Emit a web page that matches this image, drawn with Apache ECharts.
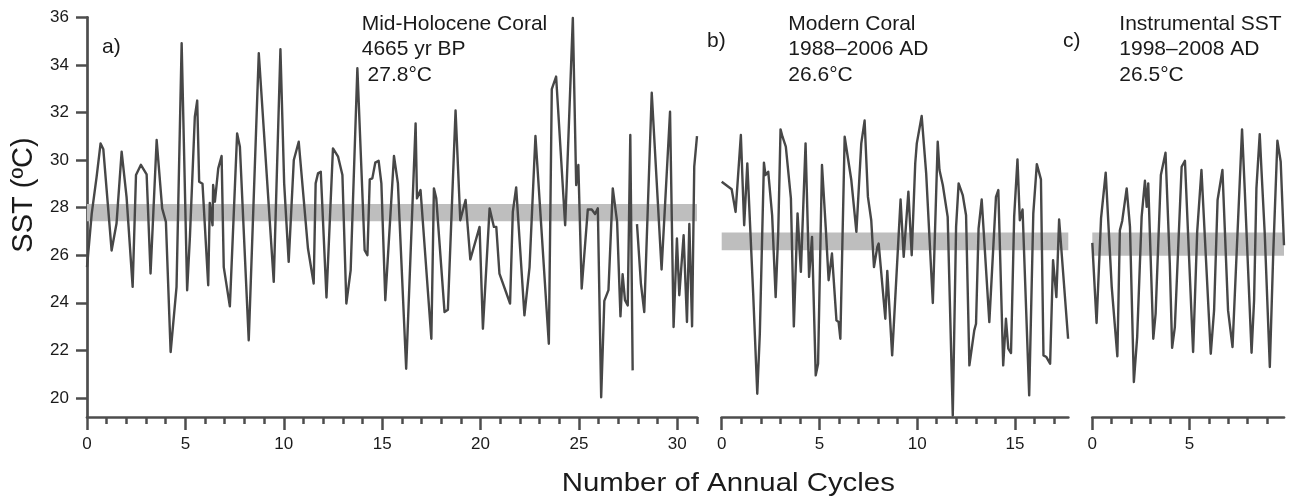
<!DOCTYPE html>
<html>
<head>
<meta charset="utf-8">
<script src="https://cdn.jsdelivr.net/npm/echarts@6/dist/echarts.min.js"></script>
<style>
html,body{margin:0;padding:0;background:#fff}
#chart{width:1300px;height:499px}
</style>
</head>
<body>
<div id="chart"></div>
<script>
// a) Mid-Holocene coral
var aX=[0,0.24,0.49,0.69,0.83,1.25,1.5,1.76,2.01,2.32,
    2.49,2.74,3.03,3.23,3.54,3.82,4.01,4.25,4.55,4.81,
    5.09,5.23,5.48,5.6,5.7,5.87,6.16,6.24,6.38,6.41,
    6.5,6.67,6.84,6.95,7.26,7.63,7.77,8.22,8.73,9.49,
    9.83,10.02,10.25,10.51,10.76,11.23,11.52,11.62,11.74,11.88,
    12.17,12.5,12.76,12.98,13.18,13.4,13.74,14.11,14.25,14.37,
    14.5,14.65,14.82,14.96,15.16,15.6,15.8,16.22,16.7,16.77,
    16.95,17.5,17.63,17.75,18.17,18.34,18.73,18.97,19.24,19.48,
    19.95,20.12,20.46,20.68,20.8,20.96,21.5,21.64,21.81,22.23,
    22.49,22.79,23.47,23.62,23.84,24.3,24.69,24.86,24.97,25.14,
    25.45,25.65,25.82,25.96,26.13,26.29,26.5,26.72,26.94,27.11,
    27.22,27.34,27.48,27.61,27.73,27.84,27.95,28.15,28.32,28.7,
    29.2,29.63,29.81,29.98,30.1,30.32,30.49,30.61,30.75,30.86,
    31.0];
var aY=[25.5,27.75,29.3,30.7,30.45,26.2,27.33,30.35,28.45,24.67,
    29.37,29.8,29.4,25.23,30.84,27.97,27.4,21.93,24.67,34.91,
    24.53,26.77,31.82,32.5,29.09,29.0,24.74,28.2,27.26,28.95,
    28.25,29.65,30.17,25.5,23.85,31.12,30.56,22.42,34.49,24.88,
    34.66,29.02,25.72,30.0,30.77,26.28,24.81,29.02,29.44,29.51,
    24.22,30.49,30.14,29.37,23.97,25.37,33.86,26.21,26.0,29.19,
    29.23,29.89,29.97,29.02,24.11,30.17,29.02,21.23,31.54,28.39,
    28.74,22.49,28.81,28.39,23.61,23.71,32.08,27.47,28.32,25.82,
    27.19,22.91,27.97,27.19,27.19,25.23,23.97,27.82,28.85,23.47,
    25.5,31.01,22.28,32.98,33.51,27.26,35.97,28.95,29.79,24.6,
    27.92,27.92,27.73,27.97,20.03,24.08,24.53,28.81,27.4,23.43,
    25.2,24.11,23.89,31.05,21.16,null,27.31,24.81,23.61,32.83,
    25.4,32.03,22.98,26.7,24.32,26.84,23.19,27.31,23.01,29.72,
    31.01];

// b) modern coral
var bX=[0,0.51,0.71,0.98,1.15,1.31,1.39,1.61,1.82,1.95,
    2.16,2.24,2.38,2.58,2.76,2.89,3.01,3.11,3.28,3.54,
    3.69,3.88,4.05,4.29,4.47,4.62,4.81,4.93,5.13,5.32,
    5.47,5.64,5.87,5.98,6.07,6.29,6.38,6.63,6.89,6.97,
    7.14,7.31,7.48,7.65,7.79,7.96,8.03,8.37,8.47,8.72,
    9.15,9.31,9.55,9.72,9.9,9.98,10.23,10.46,10.8,11.05,
    11.14,11.31,11.56,11.82,11.99,12.12,12.33,12.5,12.67,12.92,
    13.01,13.14,13.3,13.69,14.03,14.15,14.4,14.54,14.66,14.8,
    14.96,15.13,15.25,15.39,15.73,15.94,16.12,16.33,16.46,16.61,
    16.8,16.95,17.12,17.26,17.72];
var bY=[29.09,28.77,27.82,31.05,27.26,29.86,29.93,24.39,20.18,22.7,
    29.89,29.37,29.51,27.68,24.24,26.91,31.29,30.98,30.56,28.39,
    23.01,27.76,25.3,30.7,25.09,26.77,20.95,21.44,29.79,27.19,
    24.95,26.07,23.26,23.19,22.49,30.98,31.01,29.16,26.98,26.91,
    30.7,31.66,28.45,27.47,25.5,26.35,26.49,23.33,25.34,21.79,
    28.34,25.93,28.67,26.0,29.86,30.7,31.85,29.44,23.99,30.77,
    29.58,28.95,27.61,19.26,27.19,29.02,28.53,27.68,21.37,22.84,
    23.12,27.12,28.34,23.19,28.45,28.74,21.37,23.33,22.07,21.89,
    27.61,30.03,27.47,27.92,20.11,27.76,29.83,29.19,21.79,21.72,
    21.44,25.79,24.24,27.5,22.49];

// c) instrumental SST
var cX=[0,0.22,0.45,0.69,1.0,1.29,1.42,1.54,1.77,1.94,
    2.14,2.31,2.54,2.71,2.8,2.88,3.14,3.26,3.53,3.77,
    3.99,4.11,4.25,4.6,4.77,5.19,5.4,5.62,6.1,6.27,
    6.45,6.7,6.99,7.22,7.71,7.85,8.2,8.33,8.45,8.62,
    8.71,8.88,9.14,9.31,9.53,9.7,9.87];
var cY=[26.52,23.15,27.55,29.47,24.67,21.75,27.05,27.44,28.81,27.19,
    20.67,22.56,27.61,29.13,28.03,29.02,22.49,23.54,29.37,30.31,
    25.65,22.11,22.98,29.72,29.97,21.93,26.98,29.58,21.86,23.68,
    28.32,29.58,23.68,22.14,31.29,28.74,21.9,24.11,28.81,31.09,
    29.58,26.88,21.3,25.93,30.81,29.93,26.42];

// mean bands (°C)
var bandA=[27.43,28.15], bandB=[26.21,26.96], bandC=[25.98,26.96];
var xMaxA=31, xMaxB=17.73, xMaxC=9.87;
var yTicks=[20,22,24,26,28,30,32,34,36];
var yMin=19.2, yMax=36;

var font="'Liberation Sans', Arial, Helvetica, sans-serif";
var ink="#4d4d4d";
var txt="#1a1a1a";

function range(n){var r=[];for(var i=0;i<=n;i++)r.push(i);return r;}
function majors(n){var r=[];for(var i=0;i<=n;i+=5)r.push(i);return r;}
function pairs(xs,ys){return xs.map(function(x,i){return [x, ys[i]===null?'-':ys[i]];});}

var panels=[
    {x:aX,y:aY,max:xMaxA,band:bandA,left:87,width:610},
    {x:bX,y:bY,max:xMaxB,band:bandB,left:721.7,width:346.6},
    {x:cX,y:cY,max:xMaxC,band:bandC,left:1092.3,width:191.7}
];

var grid=[],xAxis=[],yAxis=[],series=[];
panels.forEach(function(p,i){
    grid.push({left:p.left,width:p.width,top:17.3,height:399.7});
    // axis line + minor ticks
    xAxis.push({
        type:"value",gridIndex:i,min:0,max:p.max,position:"bottom",
        axisLine:{show:true,onZero:false,lineStyle:{color:ink,width:2.7}},
        axisTick:{show:true,customValues:range(Math.floor(p.max)),length:7,lineStyle:{color:ink,width:2.5}},
        axisLabel:{show:false},
        splitLine:{show:false}
    });
    // major ticks + labels
    xAxis.push({
        type:"value",gridIndex:i,min:0,max:p.max,position:"bottom",
        axisLine:{show:false,onZero:false},
        axisTick:{show:true,customValues:majors(p.max),length:13,lineStyle:{color:ink,width:2.5}},
        axisLabel:{show:true,customValues:majors(p.max),margin:19,fontSize:17,color:txt,fontFamily:font},
        splitLine:{show:false}
    });
    yAxis.push({
        type:"value",gridIndex:i,min:yMin,max:yMax,show:i===0,
        axisLine:{show:true,onZero:false,lineStyle:{color:ink,width:2.7}},
        axisTick:{show:true,customValues:yTicks,length:11,lineStyle:{color:ink,width:2.5}},
        axisLabel:{show:true,customValues:yTicks,margin:18,fontSize:17,color:txt,fontFamily:font},
        splitLine:{show:false}
    });
    series.push({
        type:"line",
        xAxisIndex:2*i,
        yAxisIndex:i,
        data:pairs(p.x,p.y),
        showSymbol:false,
        symbol:"none",
        connectNulls:false,
        silent:true,
        lineStyle:{color:"#474747",width:2.4,join:"round"},
        itemStyle:{color:"#474747"},
        markArea:{
            silent:true,
            itemStyle:{color:"#bebebe"},
            data:[[{xAxis:0,yAxis:p.band[0]},{xAxis:p.max,yAxis:p.band[1]}]]
        }
    });
});

var chart=echarts.init(document.getElementById("chart"));
chart.setOption({
    animation:false,
    backgroundColor:"#fff",
    grid:grid,
    xAxis:xAxis,
    yAxis:yAxis,
    series:series,
    graphic:[
        {type:"text",x:102,y:47,style:{text:"a)",fontSize:21,fontFamily:font,fill:txt,verticalAlign:"middle"}},
        {type:"text",x:707,y:41.5,style:{text:"b)",fontSize:21,fontFamily:font,fill:txt,verticalAlign:"middle"}},
        {type:"text",x:1063,y:41.5,style:{text:"c)",fontSize:21,fontFamily:font,fill:txt,verticalAlign:"middle"}},
        {type:"text",x:361.7,y:11,style:{text:"Mid-Holocene Coral\n4665 yr BP\n 27.8°C",fontSize:21,lineHeight:25.7,fontFamily:font,fill:txt,verticalAlign:"top"}},
        {type:"text",x:788.3,y:11,style:{text:"Modern Coral\n1988–2006 AD\n26.6°C",fontSize:21,lineHeight:25.7,fontFamily:font,fill:txt,verticalAlign:"top"}},
        {type:"text",x:1119.3,y:11,style:{text:"Instrumental SST\n1998–2008 AD\n26.5°C",fontSize:21,lineHeight:25.7,fontFamily:font,fill:txt,verticalAlign:"top"}},
        {type:"text",x:24,y:195,rotation:Math.PI/2,style:{text:"SST (ºC)",fontSize:29,fontFamily:font,fill:txt,align:"center",verticalAlign:"middle"}},
        {type:"text",x:728.3,y:483.5,scaleX:1.13,style:{text:"Number of Annual Cycles",fontSize:26,fontFamily:font,fill:txt,align:"center",verticalAlign:"middle"}}
    ]
});
</script>
</body>
</html>
